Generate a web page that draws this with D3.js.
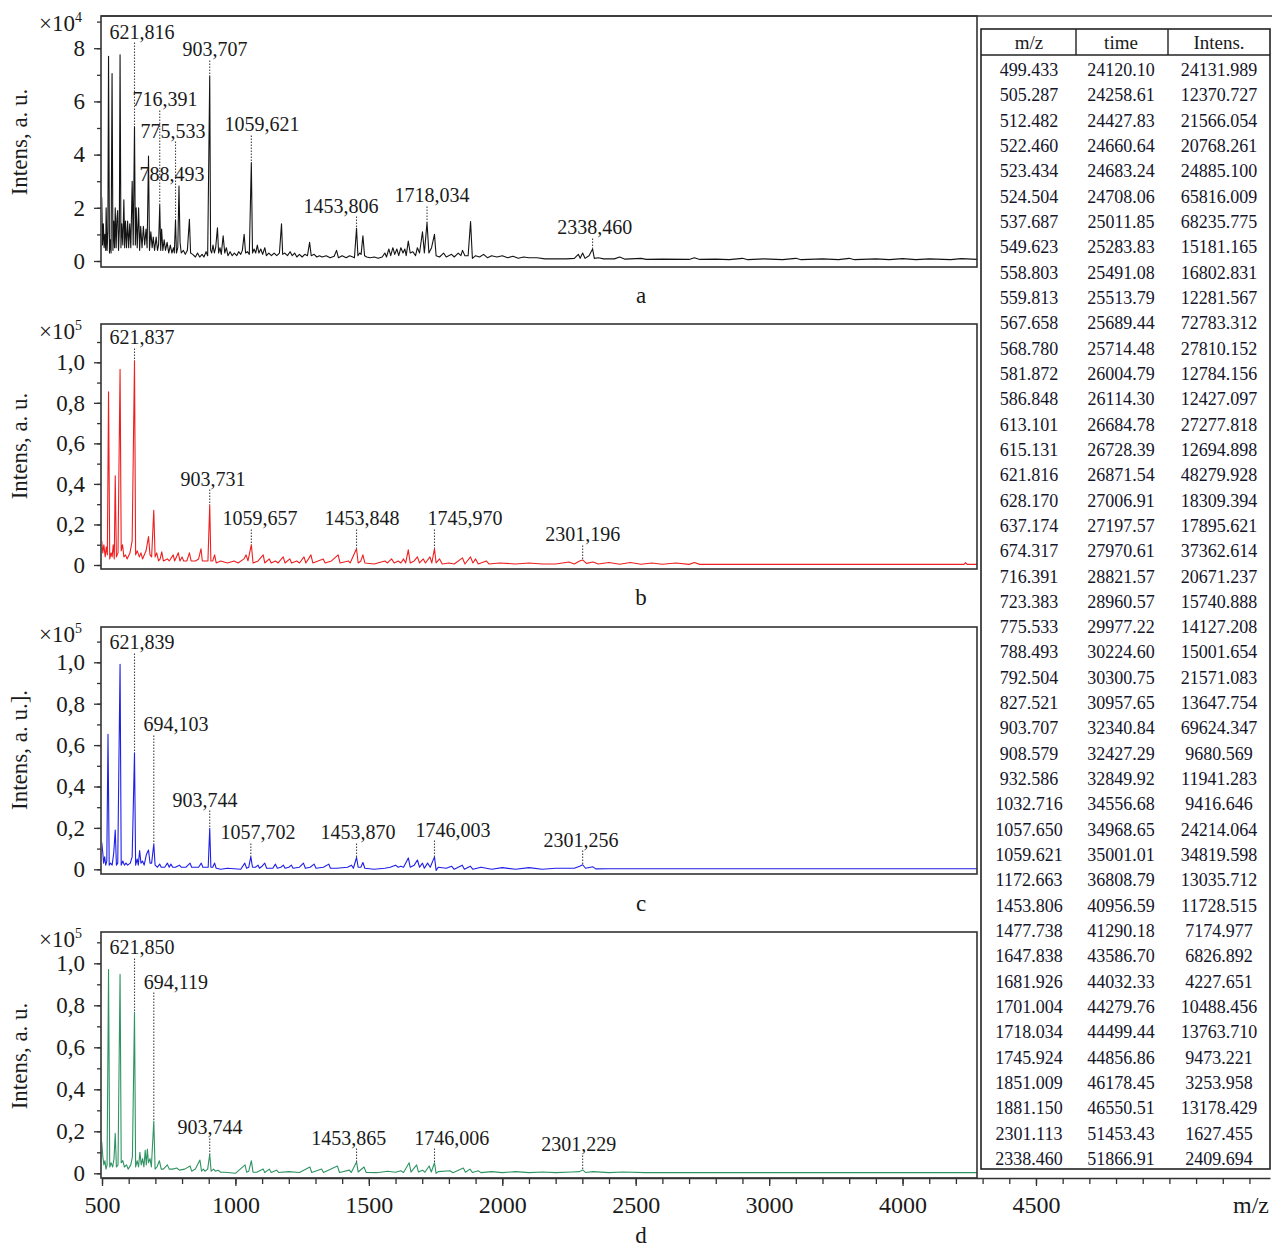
<!DOCTYPE html>
<html>
<head>
<meta charset="utf-8">
<script src="https://cdn.jsdelivr.net/npm/d3@7"></script>
<style>
  body { margin: 0; background: #fff; }
  svg { font-family: "Liberation Serif", "Times New Roman", serif; }
</style>
</head>
<body>
<div id="chart"></div>
<script>
// spectrum traces, [m/z, intensity]
// a: x10^4, b-d: x10^5
const specA = [[499,2.4],[502,0.6],[505,1.4],[508,0.5],[511,1.0],[514,0.4],[515.5,2.0],[519,0.4],[522,1.1],[524.5,7.7],[528,0.3],[531,0.8],[534,0.3],[537.7,7.05],[541,0.4],[544,1.5],[547,0.5],[549.6,2.0],[553,0.5],[556,1.6],[558.8,1.9],[562,0.4],[565,1.2],[567.7,7.75],[571,0.5],[574,1.4],[578,0.6],[581.9,2.3],[585,0.5],[588,1.5],[592,0.5],[596,1.5],[600,0.5],[604,1.4],[608,0.5],[613.1,3.0],[617,0.6],[621.8,5.05],[625,0.6],[628.2,2.0],[632,0.5],[637.2,2.0],[641,0.4],[645,1.3],[650,0.5],[655,1.3],[660,0.6],[665,1.2],[669,0.5],[674.3,3.95],[678,0.4],[683,1.1],[688,0.5],[692,0.9],[697,0.4],[703,0.9],[708,0.4],[712,0.6],[716.4,2.1],[720,0.4],[723.4,1.2],[728,0.4],[733,0.8],[738,0.4],[744,0.7],[750,0.3],[756,0.6],[762,0.3],[768,0.5],[771,0.3],[775.5,1.55],[779,0.3],[784,0.5],[788.5,2.8],[792.5,0.7],[797,0.3],[805,0.4],[812,0.25],[820,0.4],[827.5,1.57],[832,0.3],[840,0.25],[850,0.15],[858,0.3],[866,0.15],[875,0.25],[882,0.15],[890,0.35],[896,0.2],[903.7,6.95],[907,0.4],[911,0.3],[916,0.6],[921,0.3],[926,0.5],[932.6,1.25],[937,0.3],[942,0.5],[947,0.25],[954,0.95],[960,0.3],[966,0.5],[972,0.2],[980,0.35],[988,0.2],[996,0.3],[1005,0.2],[1012,0.35],[1020,0.25],[1026,0.4],[1032.7,1.0],[1038,0.3],[1045,0.35],[1052,0.25],[1059.6,3.7],[1064,0.3],[1070,0.45],[1076,0.3],[1082,0.6],[1088,0.3],[1095,0.45],[1102,0.25],[1110,0.5],[1116,0.2],[1125,0.3],[1135,0.2],[1145,0.3],[1155,0.2],[1165,0.3],[1172.7,1.4],[1177,0.25],[1185,0.3],[1195,0.2],[1205,0.35],[1213,0.2],[1222,0.3],[1230,0.15],[1240,0.25],[1250,0.15],[1260,0.25],[1270,0.2],[1278,0.7],[1284,0.2],[1295,0.25],[1305,0.15],[1315,0.2],[1325,0.15],[1340,0.2],[1355,0.12],[1370,0.18],[1379,0.4],[1386,0.12],[1400,0.2],[1415,0.12],[1428,0.2],[1440,0.15],[1446,0.12],[1453.8,1.23],[1459,0.2],[1466,0.3],[1471,0.25],[1477.7,0.95],[1484,0.2],[1492,0.15],[1505,0.12],[1520,0.15],[1535,0.1],[1550,0.15],[1560,0.3],[1566,0.15],[1575,0.45],[1582,0.2],[1590,0.5],[1597,0.25],[1605,0.45],[1612,0.2],[1620,0.5],[1628,0.3],[1635,0.45],[1640,0.2],[1647.8,0.75],[1655,0.3],[1665,0.35],[1675,0.2],[1681.9,0.5],[1690,0.3],[1701,1.1],[1708,0.3],[1718,1.45],[1725,0.3],[1735,0.5],[1745.9,1.0],[1752,0.2],[1765,0.15],[1780,0.3],[1790,0.15],[1810,0.25],[1820,0.15],[1835,0.3],[1845,0.2],[1851,0.4],[1860,0.2],[1872,0.2],[1881.2,1.48],[1888,0.1],[1900,0.2],[1915,0.15],[1930,0.25],[1945,0.12],[1960,0.2],[1980,0.15],[2000,0.2],[2020,0.12],[2040,0.18],[2060,0.1],[2080,0.15],[2100,0.12],[2130,0.12],[2160,0.08],[2200,0.08],[2240,0.08],[2270,0.1],[2285,0.25],[2292,0.1],[2301.1,0.3],[2310,0.1],[2325,0.2],[2338.5,0.45],[2345,0.1],[2360,0.12],[2380,0.08],[2420,0.08],[2440,0.15],[2460,0.07],[2520,0.1],[2540,0.06],[2600,0.07],[2700,0.06],[2720,0.12],[2740,0.06],[2800,0.07],[2850,0.05],[2900,0.1],[2920,0.05],[2980,0.08],[3050,0.05],[3100,0.1],[3120,0.05],[3200,0.08],[3260,0.05],[3300,0.1],[3320,0.05],[3400,0.08],[3450,0.05],[3500,0.09],[3550,0.05],[3600,0.08],[3680,0.05],[3720,0.09],[3780,0.06]];

const specB = [[499,0.12],[503,0.06],[507,0.1],[512,0.04],[516,0.09],[520,0.05],[524.5,0.855],[529,0.03],[534,0.06],[538,0.04],[542,0.1],[546,0.03],[549.6,0.44],[554,0.04],[560,0.06],[567.7,0.965],[572,0.07],[577,0.1],[582,0.04],[588,0.05],[594,0.03],[605,0.06],[613,0.12],[621.8,1.008],[626,0.05],[632,0.07],[640,0.04],[646,0.06],[652,0.03],[665,0.07],[674.3,0.14],[680,0.05],[686,0.04],[694,0.27],[699,0.04],[705,0.06],[712,0.02],[718,0.03],[724,0.065],[730,0.02],[745,0.03],[752,0.02],[767,0.05],[772,0.02],[786,0.06],[792,0.02],[800,0.04],[806,0.02],[818,0.02],[827.5,0.06],[834,0.02],[850,0.02],[862,0.03],[871,0.08],[876,0.02],[890,0.02],[897,0.02],[903.7,0.296],[908,0.02],[915,0.02],[922,0.05],[928,0.01],[945,0.02],[970,0.01],[995,0.02],[1010,0.01],[1032,0.03],[1040,0.05],[1047,0.02],[1059.7,0.1],[1066,0.01],[1085,0.02],[1104,0.05],[1110,0.01],[1127,0.03],[1134,0.01],[1150,0.02],[1160,0.01],[1179,0.04],[1186,0.01],[1204,0.03],[1210,0.01],[1230,0.02],[1240,0.01],[1257,0.04],[1264,0.01],[1283,0.05],[1290,0.01],[1310,0.02],[1329,0.03],[1336,0.01],[1360,0.02],[1385,0.05],[1392,0.01],[1423,0.02],[1430,0.01],[1453.8,0.08],[1460,0.01],[1470,0.02],[1477.7,0.05],[1485,0.01],[1520,0.005],[1560,0.02],[1570,0.01],[1585,0.03],[1595,0.01],[1610,0.02],[1620,0.01],[1630,0.03],[1638,0.01],[1647.8,0.075],[1655,0.01],[1670,0.02],[1681.9,0.04],[1690,0.01],[1704,0.03],[1712,0.01],[1729,0.04],[1736,0.01],[1745.9,0.08],[1752,0.01],[1765,0.03],[1775,0.005],[1800,0.01],[1820,0.005],[1851,0.035],[1860,0.005],[1881,0.04],[1890,0.01],[1900,0.03],[1910,0.005],[1940,0.02],[1950,0.005],[1990,0.01],[2050,0.005],[2100,0.01],[2150,0.005],[2200,0.005],[2250,0.015],[2270,0.005],[2290,0.02],[2301.2,0.025],[2315,0.008],[2340,0.015],[2360,0.005],[2400,0.012],[2440,0.004],[2480,0.012],[2520,0.004],[2560,0.01],[2600,0.004],[2650,0.01],[2700,0.003],[2720,0.012],[2740,0.003],[3730,0.003],[3736,0.012],[3742,0.003],[3780,0.003]];

const specC = [[499,0.13],[503,0.08],[506,0.03],[510,0.06],[514,0.02],[518,0.04],[522.5,0.652],[527,0.02],[532,0.03],[538,0.02],[544,0.08],[549.6,0.19],[554,0.02],[559,0.03],[567.7,0.99],[572,0.02],[578,0.04],[584,0.02],[590,0.03],[596,0.02],[606,0.03],[613,0.06],[621.8,0.563],[626,0.02],[632,0.05],[636,0.02],[641,0.09],[646,0.03],[652,0.04],[658,0.02],[666,0.07],[674.3,0.093],[680,0.03],[686,0.03],[694.1,0.122],[699,0.02],[708,0.01],[716,0.025],[722,0.01],[735,0.01],[745,0.03],[752,0.01],[758,0.025],[765,0.01],[775,0.01],[790,0.02],[797,0.01],[815,0.01],[830,0.03],[836,0.01],[862,0.01],[872,0.03],[878,0.01],[898,0.01],[903.7,0.198],[908,0.01],[915,0.01],[922,0.03],[928,0.005],[945,0.0],[970,0.005],[1020,0.0],[1035,0.03],[1042,0.005],[1050,0.01],[1057.7,0.061],[1064,0.01],[1075,0.01],[1085,0.02],[1090,0.005],[1100,0.015],[1110,0.03],[1117,0.005],[1140,0.005],[1150,0.025],[1157,0.005],[1170,0.01],[1180,0.02],[1186,0.005],[1200,0.01],[1210,0.02],[1216,0.005],[1240,0.01],[1255,0.03],[1262,0.005],[1280,0.01],[1295,0.025],[1302,0.005],[1330,0.01],[1350,0.025],[1356,0.005],[1380,0.005],[1420,0.01],[1435,0.02],[1442,0.005],[1453.9,0.057],[1460,0.01],[1470,0.01],[1477.7,0.033],[1485,0.005],[1520,0.0],[1560,0.005],[1580,0.01],[1600,0.02],[1610,0.01],[1620,0.015],[1630,0.01],[1648,0.055],[1655,0.01],[1670,0.02],[1682,0.045],[1690,0.01],[1701,0.03],[1708,0.005],[1720,0.03],[1730,0.01],[1746,0.06],[1752,-0.005],[1760,0.01],[1790,0.005],[1810,0.015],[1820,0.0],[1850,0.02],[1858,0.0],[1880,0.015],[1890,0.0],[1920,0.01],[1960,0.0],[2000,0.008],[2050,0.0],[2100,0.008],[2150,0.0],[2200,0.005],[2270,0.005],[2290,0.015],[2301.3,0.022],[2312,0.005],[2340,0.012],[2350,0.002],[2400,0.003],[3780,0.003]];

const specD = [[499,0.15],[503,0.08],[507,0.04],[511,0.06],[515,0.02],[519,0.04],[524.5,0.97],[529,0.03],[534,0.05],[540,0.03],[545,0.07],[549.6,0.19],[554,0.03],[560,0.04],[567.7,0.948],[572,0.05],[578,0.06],[584,0.03],[592,0.04],[598,0.02],[608,0.04],[614,0.08],[621.8,0.767],[626,0.03],[632,0.06],[637,0.03],[642,0.1],[647,0.04],[652,0.07],[657,0.03],[662,0.11],[666,0.04],[670,0.116],[674,0.05],[680,0.07],[685,0.03],[694.1,0.249],[699,0.02],[706,0.03],[715,0.06],[722,0.02],[730,0.02],[745,0.04],[752,0.02],[765,0.02],[780,0.025],[790,0.015],[810,0.02],[830,0.035],[836,0.01],[850,0.02],[867,0.063],[873,0.01],[880,0.02],[886,0.01],[896,0.02],[903.7,0.09],[909,0.01],[918,0.02],[925,0.01],[935,0.015],[945,0.005],[960,0.005],[1000,0.0],[1036,0.04],[1042,0.005],[1050,0.01],[1059.7,0.06],[1066,0.005],[1080,0.005],[1104,0.02],[1110,0.004],[1127,0.02],[1134,0.004],[1154,0.015],[1162,0.004],[1200,0.008],[1240,0.004],[1279,0.03],[1286,0.004],[1323,0.02],[1330,0.004],[1382,0.035],[1390,0.004],[1427,0.015],[1434,0.004],[1453.9,0.054],[1460,0.006],[1482,0.03],[1490,0.004],[1530,0.003],[1570,0.01],[1600,0.005],[1620,0.012],[1630,0.004],[1651,0.05],[1658,0.006],[1679,0.04],[1686,0.006],[1701,0.015],[1710,0.005],[1726,0.035],[1734,0.006],[1746,0.05],[1752,0.0],[1760,0.008],[1804,0.012],[1815,0.003],[1854,0.025],[1862,0.005],[1879,0.02],[1888,0.004],[1910,0.012],[1920,0.003],[1960,0.008],[2000,0.003],[2050,0.008],[2100,0.003],[2150,0.006],[2200,0.003],[2260,0.006],[2290,0.008],[2301.2,0.016],[2312,0.004],[2340,0.008],[2400,0.003],[2450,0.006],[2535,0.003],[3780,0.003]];

// peak labels: [peak m/z, text, label baseline value, peak top value, label centre m/z]
const annA = [[621.816,"621,816",8.36,5.05,650],[903.707,"903,707",7.69,6.95,923],[716.391,"716,391",5.81,2.1,736],[775.533,"775,533",4.64,1.55,766],[788.493,"788,493",2.99,2.8,762],[1059.621,"1059,621",4.87,3.7,1100],[1453.806,"1453,806",1.82,1.23,1396],[1718.034,"1718,034",2.2,1.45,1737],[2338.460,"2338,460",1.0,0.45,2347]];
const annB = [[621.837,"621,837",1.088,1.008,650],[903.731,"903,731",0.392,0.296,916],[1059.657,"1059,657",0.195,0.1,1092],[1453.848,"1453,848",0.195,0.08,1474],[1745.970,"1745,970",0.195,0.08,1860],[2301.196,"2301,196",0.116,0.025,2302]];
const annC = [[621.839,"621,839",1.062,0.563,650],[694.103,"694,103",0.666,0.122,777],[903.744,"903,744",0.303,0.198,886],[1057.702,"1057,702",0.144,0.061,1085],[1453.870,"1453,870",0.144,0.057,1459],[1746.003,"1746,003",0.158,0.06,1815],[2301.256,"2301,256",0.11,0.022,2295]];
const annD = [[621.850,"621,850",1.042,0.767,650],[694.119,"694,119",0.88,0.249,777],[903.744,"903,744",0.185,0.09,905],[1453.865,"1453,865",0.137,0.054,1425],[1746.006,"1746,006",0.137,0.05,1811],[2301.229,"2301,229",0.104,0.016,2287]];

const yTicksA = [0, 2, 4, 6, 8];
const yTicksB = [0, 0.2, 0.4, 0.6, 0.8, 1.0];
const xTickValues = [500, 1000, 1500, 2000, 2500, 3000, 3500, 4000];
const xTickLabels = ["500", "1000", "1500", "2000", "2500", "3000", "4000", "4500"];
const panelLetters = ["a", "b", "c", "d"];
const yTitles = ["Intens, a. u.", "Intens, a. u.", "Intens, a. u.].", "Intens, a. u."];
const exponents = ["4", "5", "5", "5"];

const tableHead = ["m/z", "time", "Intens."];
const tableMz = ["499.433","505.287","512.482","522.460","523.434","524.504","537.687","549.623","558.803","559.813","567.658","568.780","581.872","586.848","613.101","615.131","621.816","628.170","637.174","674.317","716.391","723.383","775.533","788.493","792.504","827.521","903.707","908.579","932.586","1032.716","1057.650","1059.621","1172.663","1453.806","1477.738","1647.838","1681.926","1701.004","1718.034","1745.924","1851.009","1881.150","2301.113","2338.460"];
const tableTime = ["24120.10","24258.61","24427.83","24660.64","24683.24","24708.06","25011.85","25283.83","25491.08","25513.79","25689.44","25714.48","26004.79","26114.30","26684.78","26728.39","26871.54","27006.91","27197.57","27970.61","28821.57","28960.57","29977.22","30224.60","30300.75","30957.65","32340.84","32427.29","32849.92","34556.68","34968.65","35001.01","36808.79","40956.59","41290.18","43586.70","44032.33","44279.76","44499.44","44856.86","46178.45","46550.51","51453.43","51866.91"];
const tableIntens = ["24131.989","12370.727","21566.054","20768.261","24885.100","65816.009","68235.775","15181.165","16802.831","12281.567","72783.312","27810.152","12784.156","12427.097","27277.818","12694.898","48279.928","18309.394","17895.621","37362.614","20671.237","15740.888","14127.208","15001.654","21571.083","13647.754","69624.347","9680.569","11941.283","9416.646","24214.064","34819.598","13035.712","11728.515","7174.977","6826.892","4227.651","10488.456","13763.710","9473.221","3253.958","13178.429","1627.455","2409.694"];

const width = 1272, height = 1248;
const boxLeft = 101, boxRight = 977;
const axisColor = "#333";

const svg = d3.select("#chart").append("svg")
    .attr("width", width)
    .attr("height", height);

const x = d3.scaleLinear().domain([500, 4877]).range([102, 1270]);

const comma = d => d === 0 ? "0" : d3.format(".1f")(d).replace(".", ",");

const panels = [
    { spec: specA, ann: annA, color: "#141414", top: 16, bottom: 267, y0: 261, y1: 48.2, v1: 8, major: yTicksA, step: 1, maxMinor: 9, fmt: d => d, titleY: 142, letterY: 303 },
    { spec: specB, ann: annB, color: "#ee1f1f", top: 324, bottom: 569, y0: 565, y1: 362.3, v1: 1, major: yTicksB, step: 0.1, maxMinor: 1.1, fmt: comma, titleY: 446, letterY: 605 },
    { spec: specC, ann: annC, color: "#1f1fe6", top: 627, bottom: 874, y0: 869.3, y1: 662.3, v1: 1, major: yTicksB, step: 0.1, maxMinor: 1.1, fmt: comma, titleY: 750, letterY: 911 },
    { spec: specD, ann: annD, color: "#2f9463", top: 932, bottom: 1178, y0: 1173.3, y1: 963.3, v1: 1, major: yTicksB, step: 0.1, maxMinor: 1.1, fmt: comma, titleY: 1056, letterY: 1243 }
];

panels.forEach((p, i) => {
    const y = d3.scaleLinear().domain([0, p.v1]).range([p.y0, p.y1]);
    const g = svg.append("g");

    // clip so the trace stays inside the frame
    const clipId = "clip" + i;
    svg.append("clipPath").attr("id", clipId)
        .append("rect")
        .attr("x", boxLeft + 1).attr("y", p.top)
        .attr("width", boxRight - boxLeft - 1).attr("height", p.bottom - p.top);

    const line = d3.line().x(d => x(d[0])).y(d => y(d[1]));
    g.append("path")
        .datum(p.spec)
        .attr("clip-path", `url(#${clipId})`)
        .attr("d", line)
        .attr("fill", "none")
        .attr("stroke", p.color)
        .attr("stroke-width", 1.1)
        .attr("stroke-linejoin", "round");

    // frame
    g.append("rect")
        .attr("x", boxLeft).attr("y", p.top)
        .attr("width", boxRight - boxLeft).attr("height", p.bottom - p.top)
        .attr("fill", "none")
        .attr("stroke", axisColor)
        .attr("stroke-width", 1.6);

    // y ticks: minor then major with labels
    const minor = d3.range(0, p.maxMinor + p.step / 2, p.step);
    g.append("g")
        .attr("transform", `translate(${boxLeft},0)`)
        .call(d3.axisLeft(y).tickValues(minor).tickSize(4).tickFormat(""))
        .call(a => a.select(".domain").remove())
        .call(a => a.selectAll("line").attr("stroke", axisColor).attr("stroke-width", 1.3));

    g.append("g")
        .attr("transform", `translate(${boxLeft},0)`)
        .call(d3.axisLeft(y).tickValues(p.major).tickSize(7).tickPadding(9).tickFormat(p.fmt))
        .attr("font-family", null)
        .attr("font-size", 23)
        .call(a => a.select(".domain").remove())
        .call(a => a.selectAll("line").attr("stroke", axisColor).attr("stroke-width", 1.3))
        .call(a => a.selectAll("text").attr("fill", "#1a1a1a"));

    // x10^n multiplier
    const mult = g.append("text")
        .attr("x", 39).attr("y", p.top + 15)
        .attr("font-size", 23)
        .attr("fill", "#1a1a1a");
    mult.append("tspan").text("\u00d710");
    mult.append("tspan").attr("dy", -9).attr("font-size", 14).text(exponents[i]);

    // y title
    g.append("text")
        .attr("transform", `translate(27,${p.titleY}) rotate(-90)`)
        .attr("text-anchor", "middle")
        .attr("font-size", 23)
        .attr("fill", "#1a1a1a")
        .text(yTitles[i]);

    // panel letter
    g.append("text")
        .attr("x", 641).attr("y", p.letterY)
        .attr("text-anchor", "middle")
        .attr("font-size", 23)
        .attr("fill", "#1a1a1a")
        .text(panelLetters[i]);

    // peak labels with dotted leaders
    const ann = g.selectAll(".ann").data(p.ann).enter().append("g").attr("class", "ann");
    ann.append("line")
        .attr("x1", d => x(d[0])).attr("x2", d => x(d[0]))
        .attr("y1", d => y(d[2]) + 4)
        .attr("y2", d => y(d[3]))
        .attr("stroke", "#444")
        .attr("stroke-width", 1.1)
        .attr("stroke-dasharray", "1.5,1.5");
    ann.append("text")
        .attr("x", d => x(d[4])).attr("y", d => y(d[2]))
        .attr("text-anchor", "middle")
        .attr("font-size", 20)
        .attr("fill", "#1a1a1a")
        .text(d => d[1]);
});

// top line of panel a runs across the whole figure
svg.append("line")
    .attr("x1", boxLeft).attr("x2", 1272)
    .attr("y1", 16).attr("y2", 16)
    .attr("stroke", axisColor).attr("stroke-width", 1.6);

// table of peaks
const tLeft = 981, tRight = 1270, tTop = 29, tHead = 55, tBottom = 1169;
const colX = [1029, 1121, 1219];
const colDiv = [1076, 1168];
const tg = svg.append("g");
tg.append("rect")
    .attr("x", tLeft).attr("y", tTop)
    .attr("width", tRight - tLeft).attr("height", tBottom - tTop)
    .attr("fill", "#fff")
    .attr("stroke", "#222").attr("stroke-width", 1.6);
tg.append("line")
    .attr("x1", tLeft).attr("x2", tRight)
    .attr("y1", tHead).attr("y2", tHead)
    .attr("stroke", "#222").attr("stroke-width", 1.4);
tg.selectAll(".div").data(colDiv).enter().append("line")
    .attr("x1", d => d).attr("x2", d => d)
    .attr("y1", tTop).attr("y2", tHead)
    .attr("stroke", "#222").attr("stroke-width", 1.4);
tg.selectAll(".head").data(tableHead).enter().append("text")
    .attr("x", (d, i) => colX[i]).attr("y", 49)
    .attr("text-anchor", "middle")
    .attr("font-size", 19)
    .attr("fill", "#1a1a1a")
    .text(d => d);

const row = d3.scalePoint().domain(d3.range(tableMz.length)).range([70, 1159]);
[tableMz, tableTime, tableIntens].forEach((col, ci) => {
    tg.selectAll(".c" + ci).data(col).enter().append("text")
        .attr("x", colX[ci])
        .attr("y", (d, i) => row(i) + 6)
        .attr("text-anchor", "middle")
        .attr("font-size", 18)
        .attr("fill", "#15152a")
        .text(d => d);
});

// shared m/z axis under panel d
const minorX = d3.range(500, 4877, 100);
svg.append("g").attr("transform", `translate(0,${panels[3].bottom})`)
    .call(d3.axisBottom(x).tickValues(minorX).tickSize(6).tickFormat("").tickSizeOuter(0))
    .call(a => a.select(".domain").attr("stroke", axisColor).attr("stroke-width", 1.6))
    .call(a => a.selectAll("line").attr("stroke", axisColor).attr("stroke-width", 1.3));
svg.append("g").attr("transform", `translate(0,${panels[3].bottom})`)
    .call(d3.axisBottom(x).tickValues(xTickValues).tickSize(8).tickPadding(10)
        .tickFormat((d, i) => xTickLabels[i]))
    .attr("font-family", null)
    .attr("font-size", 24)
    .call(a => a.select(".domain").remove())
    .call(a => a.selectAll("line").attr("stroke", axisColor).attr("stroke-width", 1.3))
    .call(a => a.selectAll("text").attr("fill", "#1a1a1a"));

svg.append("text")
    .attr("x", 1251).attr("y", 1213)
    .attr("text-anchor", "middle")
    .attr("font-size", 24)
    .attr("fill", "#1a1a1a")
    .text("m/z");
</script>
</body>
</html>
